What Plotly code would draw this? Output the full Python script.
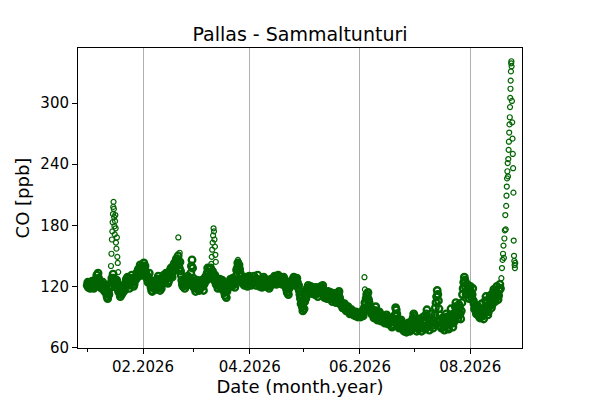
import pandas as pd
import plotly.graph_objects as go

# ---------------- data ----------------
first_day = "2026-01-01"

# three readings per day (02:00, 10:00, 18:00), 1 Jan .. 17 Aug 2026, CO in ppb
co_02h = (
    [121,123,119,124,120,127,133,125,118,121,116,110,112,119,126,124,122,118,113,112,118,120,125,121,124,128,122,127,132,135,139]  # Jan
    + [136,140,131,128,123,115,121,117,126,120,118,127,124,131,125,133,129,137,140,145,138,131,120,118,121,124,127,146]  # Feb
    + [119,115,124,116,121,120,124,126,134,131,128,132,127,121,123,118,125,114,109,119,123,120,126,124,138,141,130,123,121,127,122]  # Mar
    + [128,123,126,124,127,123,126,121,127,122,125,120,126,123,128,124,129,125,122,127,121,115,119,122,125,126,128,121,108,100]  # Apr
    + [98,108,116,119,117,115,112,117,114,117,118,113,110,112,108,112,107,111,106,112,106,103,100,99,97,96,94,95,93,92,91]  # May
    + [92,93,95,103,110,104,98,97,91,96,88,93,87,90,85,90,84,86,81,87,97,86,80,85,79,82,77,83,78,84]  # Jun
    + [91,80,82,88,76,90,78,97,81,87,84,86,104,112,92,79,86,81,90,78,92,85,88,104,88,99,96,118,126,115,113]  # Jul
    + [120,112,103,96,101,94,97,91,99,104,95,111,102,117,108,113,116]  # Aug
)
co_10h = (
    [124,120,122,121,126,131,128,121,122,117,120,108,118,124,132,120,126,115,110,117,121,124,129,118,127,124,126,131,137,141,134]
    + [143,134,127,133,119,119,125,122,130,116,123,131,129,128,130,138,134,143,147,150,144,126,124,123,126,128,133,138]
    + [124,121,120,122,126,116,129,133,129,138,135,126,122,118,127,123,121,111,115,124,127,125,122,130,143,137,127,128,126,123,126]
    + [124,127,130,121,131,120,122,126,123,126,121,124,122,127,125,128,126,128,126,123,117,112,123,126,129,123,124,116,103,96]
    + [105,114,121,115,113,118,116,113,118,120,121,109,113,115,111,108,110,107,110,115,102,99,103,96,100,93,97,92,91,94,93]
    + [90,96,99,108,114,100,93,92,95,90,92,89,91,86,88,86,87,82,85,92,93,82,84,81,76,78,81,79,82,89]
    + [87,76,78,83,81,84,86,89,77,93,79,92,110,106,86,84,80,87,84,83,98,80,94,97,95,93,104,124,119,122,108]
    + [114,118,98,93,95,89,103,88,106,97,101,104,108,110,115,107,122]
)
co_18h = (
    [119,118,125,118,122,124,123,119,124,115,113,114,121,128,128,126,119,121,116,114,116,127,122,123,131,120,129,134,130,138,131]
    + [138,129,124,126,116,122,118,127,124,119,128,126,133,123,135,131,140,136,142,141,135,122,127,127,130,122,140,128]
    + [118,126,117,119,123,122,127,138,137,133,130,131,125,124,120,126,116,117,120,121,122,128,119,136,140,133,124,125,129,120,130]
    + [121,125,127,125,126,124,119,129,120,124,118,127,125,130,122,131,123,124,129,120,114,118,121,124,127,127,119,112,110,104]
    + [111,118,118,120,119,114,119,110,116,115,116,112,108,110,114,105,113,104,113,109,104,101,98,100,95,97,93,94,95,90,92]
    + [94,91,104,112,107,96,95,89,100,87,95,86,89,84,92,83,85,80,88,99,88,79,87,78,80,75,84,76,86,93]
    + [82,79,85,79,86,80,93,83,84,88,82,99,116,98,81,89,77,93,79,88,90,84,100,91,102,88,112,129,112,118,117]
    + [109,106,101,99,91,92,96,93,110,92,107,99,114,105,120,111,118]
)
reading_hours = [2, 10, 18]

# pollution episodes and single outliers, plus the late-August event
episode_times = [
    "2026-01-14 06:00", "2026-01-14 12:00", "2026-01-14 18:00", "2026-01-15 00:00",
    "2026-01-15 04:00", "2026-01-15 08:00", "2026-01-15 12:00", "2026-01-15 16:00",
    "2026-01-15 20:00", "2026-01-16 00:00", "2026-01-16 04:00", "2026-01-16 08:00",
    "2026-01-16 12:00", "2026-01-16 16:00", "2026-01-16 20:00", "2026-01-17 00:00",
    "2026-01-17 06:00", "2026-01-17 12:00", "2026-01-17 18:00", "2026-01-18 00:00",
    "2026-01-18 06:00",
    "2026-02-20 12:00", "2026-02-21 06:00",
    "2026-03-10 18:00", "2026-03-11 00:00", "2026-03-11 06:00", "2026-03-11 12:00",
    "2026-03-11 18:00", "2026-03-12 00:00", "2026-03-12 06:00", "2026-03-12 12:00",
    "2026-03-12 18:00", "2026-03-13 00:00", "2026-03-13 06:00",
    "2026-03-25 12:00", "2026-03-26 00:00",
    "2026-06-03 12:00", "2026-06-03 18:00",
    "2026-08-18 06:00", "2026-08-18 14:00", "2026-08-18 22:00",
    "2026-08-19 04:00", "2026-08-19 10:00", "2026-08-19 16:00", "2026-08-19 22:00",
    "2026-08-20 04:00", "2026-08-20 10:00", "2026-08-20 16:00", "2026-08-20 22:00",
    "2026-08-21 02:00", "2026-08-21 06:00", "2026-08-21 10:00", "2026-08-21 14:00",
    "2026-08-21 18:00", "2026-08-21 22:00",
    "2026-08-22 02:00", "2026-08-22 06:00", "2026-08-22 10:00", "2026-08-22 14:00",
    "2026-08-22 18:00", "2026-08-22 22:00",
    "2026-08-23 01:00", "2026-08-23 04:00", "2026-08-23 07:00", "2026-08-23 10:00",
    "2026-08-23 13:00", "2026-08-23 16:00", "2026-08-23 19:00", "2026-08-23 22:00",
    "2026-08-24 02:00", "2026-08-24 06:00", "2026-08-24 10:00", "2026-08-24 14:00",
    "2026-08-24 18:00", "2026-08-24 22:00",
    "2026-08-25 02:00", "2026-08-25 06:00", "2026-08-25 10:00", "2026-08-25 14:00",
    "2026-08-25 18:00", "2026-08-25 22:00",
]
episode_co = [
    140, 152, 166, 174,
    183, 191, 198, 203,
    196, 188, 179, 171,
    184, 190, 177, 163,
    157, 168, 149, 143,
    134,
    168, 153,
    142, 149, 156, 163,
    170, 177, 174, 166,
    159, 151, 144,
    146, 144,
    129, 117,
    128, 138, 146,
    152, 160, 148, 167,
    175, 190, 176, 199,
    209, 218, 226, 233,
    241, 228,
    245, 254, 262, 271,
    279, 286,
    296, 305, 314, 322,
    331, 339, 341, 336,
    302, 281, 265, 250,
    236, 212,
    165, 150, 145, 141,
    138, 143,
]

y_ticks = [60, 120, 180, 240, 300]
x_range = ["2025-12-27 00:00", "2026-08-29 16:00"]
y_range = [59.5, 354]

# ---------------- build ----------------
assert len(co_02h) == len(co_10h) == len(co_18h)
assert len(episode_times) == len(episode_co)
days = pd.date_range(first_day, periods=len(co_02h), freq="D")
times, values = [], []
for h, series in zip(reading_hours, [co_02h, co_10h, co_18h]):
    times += list(days + pd.Timedelta(hours=h))
    values += list(series)
base = pd.DataFrame({"t": times, "co": values}).sort_values("t")
episodes = pd.DataFrame({"t": pd.to_datetime(episode_times), "co": episode_co})

GREEN = "#006400"
fig = go.Figure()
# dense background record (overlapping rings form a solid band)
fig.add_trace(go.Scatter(
    x=base["t"], y=base["co"], mode="markers",
    marker=dict(symbol="circle-open", size=6.5, color=GREEN, line=dict(width=2.4, color=GREEN)),
))
# sparse excursions: clearly hollow rings
fig.add_trace(go.Scatter(
    x=episodes["t"], y=episodes["co"], mode="markers",
    marker=dict(symbol="circle-open", size=5, color=GREEN, line=dict(width=1.2, color=GREEN)),
))

fig.update_layout(
    width=600, height=400,
    margin=dict(l=78, r=78, t=48, b=52),
    paper_bgcolor="white", plot_bgcolor="white",
    showlegend=False,
    font=dict(family="DejaVu Sans", size=15, color="black"),
    title=dict(text="Pallas - Sammaltunturi", x=0.5, xanchor="center",
               y=1 - 34 / 400, yanchor="middle",
               font=dict(family="DejaVu Sans", size=19, color="black")),
    xaxis=dict(
        type="date", range=x_range, tick0="2026-02-01", dtick="M2",
        tickformat="%m.%Y", ticks="outside", ticklen=5, tickwidth=1, tickcolor="black",
        showline=True, linecolor="black", linewidth=1, mirror=True,
        showgrid=True, gridcolor="#b0b0b0", gridwidth=1, zeroline=False,
        minor=dict(tick0="2026-01-01", dtick="M1", ticks="outside", ticklen=3,
                   tickwidth=1, tickcolor="black", showgrid=False),
        title=dict(text="Date (month.year)", font=dict(size=18), standoff=4),
        automargin=False,
    ),
    yaxis=dict(
        range=y_range, tickvals=y_ticks, ticks="outside", ticklen=5, tickwidth=1,
        tickcolor="black", showline=True, linecolor="black", linewidth=1, mirror=True,
        showgrid=False, zeroline=False,
        title=dict(text="CO [ppb]", font=dict(size=18), standoff=6),
        automargin=False,
    ),
)

fig.write_html("out.html", config={"displayModeBar": False},
               post_script="document.body.style.margin='0px';")
